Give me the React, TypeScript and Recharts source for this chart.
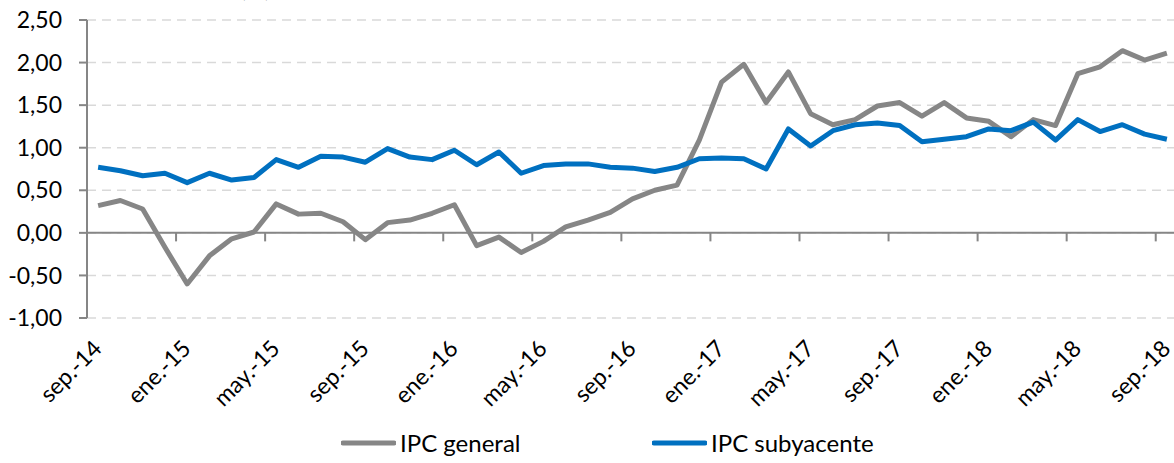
import React from "react";
import { CartesianGrid, Legend, Line, LineChart, ReferenceLine, XAxis, YAxis } from "recharts";

const months = [
  "sep.-14", "oct.-14", "nov.-14", "dic.-14",
  "ene.-15", "feb.-15", "mar.-15", "abr.-15", "may.-15", "jun.-15", "jul.-15", "ago.-15", "sep.-15", "oct.-15", "nov.-15", "dic.-15",
  "ene.-16", "feb.-16", "mar.-16", "abr.-16", "may.-16", "jun.-16", "jul.-16", "ago.-16", "sep.-16", "oct.-16", "nov.-16", "dic.-16",
  "ene.-17", "feb.-17", "mar.-17", "abr.-17", "may.-17", "jun.-17", "jul.-17", "ago.-17", "sep.-17", "oct.-17", "nov.-17", "dic.-17",
  "ene.-18", "feb.-18", "mar.-18", "abr.-18", "may.-18", "jun.-18", "jul.-18", "ago.-18", "sep.-18",
];

const ipcGeneral = [
  0.32, 0.38, 0.28, -0.17,
  -0.6, -0.27, -0.07, 0.01, 0.34, 0.22, 0.23, 0.13, -0.08, 0.12, 0.15, 0.23,
  0.33, -0.15, -0.05, -0.23, -0.1, 0.07, 0.15, 0.24, 0.4, 0.5, 0.56, 1.09,
  1.77, 1.98, 1.53, 1.89, 1.4, 1.27, 1.33, 1.49, 1.53, 1.37, 1.53, 1.35,
  1.31, 1.13, 1.33, 1.26, 1.87, 1.95, 2.14, 2.03, 2.11,
];

const ipcSubyacente = [
  0.77, 0.73, 0.67, 0.7,
  0.59, 0.7, 0.62, 0.65, 0.86, 0.77, 0.9, 0.89, 0.83, 0.99, 0.89, 0.86,
  0.97, 0.8, 0.95, 0.7, 0.79, 0.81, 0.81, 0.77, 0.76, 0.72, 0.77, 0.87,
  0.88, 0.87, 0.75, 1.22, 1.02, 1.2, 1.27, 1.29, 1.26, 1.07, 1.1, 1.13,
  1.22, 1.2, 1.3, 1.09, 1.33, 1.19, 1.27, 1.16, 1.1,
];

const yTicks = [-1, -0.5, 0, 0.5, 1, 1.5, 2, 2.5];

const data = months.map((mes, i) => ({
  i,
  mes,
  general: ipcGeneral[i],
  subyacente: ipcSubyacente[i],
}));

// label every 4th month, tick marks sit between categories
const labelTicks = months.map((_, i) => i).filter((i) => i % 4 === 0);
const tickMarks = labelTicks.slice(1).map((i) => i - 0.5);

const FONT = "Lato, 'Open Sans', sans-serif";

function MonthTick({ x, y, payload }: any) {
  return (
    <g transform={`translate(${x + 5},${y + 30}) rotate(-45)`}>
      <text textAnchor="end" fill="#000" fontSize={23} fontFamily={FONT}>
        {months[payload.value]}
      </text>
    </g>
  );
}

function LegendContent({ payload }: any) {
  return (
    <div style={{ display: "flex" }}>
      {(payload || []).map((entry: any) => (
        <div key={entry.value} style={{ width: 311, display: "flex", alignItems: "center" }}>
          <svg width={55} height={8}>
            <line x1={2} y1={4} x2={53} y2={4} stroke={entry.color} strokeWidth={5} strokeLinecap="round" />
          </svg>
          <span style={{ marginLeft: 4, fontSize: 24, fontFamily: FONT, color: "#000" }}>{entry.value}</span>
        </div>
      ))}
    </div>
  );
}

export default function App() {
  return (
    <div style={{ position: "relative", width: 1174, height: 463, overflow: "hidden", background: "#fff" }}>
      <style>{`body{margin:0}`}</style>
      <div style={{ position: "absolute", left: 240, top: -23, fontSize: 23, lineHeight: "23px", fontFamily: FONT }}>
        (%)
      </div>
      <LineChart width={1178} height={463} data={data} margin={{ top: 20, right: 0, left: 0, bottom: 0 }}>
        <CartesianGrid vertical={false} stroke="#d9d9d9" strokeWidth={1.5} strokeDasharray="9 6" />
        <XAxis
          dataKey="i"
          type="number"
          domain={[-0.5, months.length - 0.5]}
          ticks={labelTicks}
          interval={0}
          axisLine={false}
          tickLine={false}
          tickSize={0}
          height={105}
          tick={<MonthTick />}
        />
        <YAxis
          domain={[-1, 2.5]}
          ticks={yTicks}
          width={87}
          tickSize={8}
          tickMargin={17}
          axisLine={{ stroke: "#868686", strokeWidth: 2 }}
          tickLine={{ stroke: "#868686", strokeWidth: 2 }}
          tick={{ fill: "#000", fontSize: 23, fontFamily: FONT }}
          tickFormatter={(v: number) => v.toFixed(2).replace(".", ",")}
        />
        <ReferenceLine y={0} stroke="#868686" strokeWidth={2} />
        {tickMarks.map((b) => (
          <ReferenceLine
            key={b}
            segment={[{ x: b, y: 0 }, { x: b, y: -0.1 }]}
            stroke="#868686"
            strokeWidth={2}
          />
        ))}
        <Line
          type="linear"
          dataKey="general"
          name="IPC general"
          stroke="#868686"
          strokeWidth={5}
          strokeLinejoin="round"
          dot={false}
          isAnimationActive={false}
        />
        <Line
          type="linear"
          dataKey="subyacente"
          name="IPC subyacente"
          stroke="#0070c0"
          strokeWidth={5}
          strokeLinejoin="round"
          dot={false}
          isAnimationActive={false}
        />
        <Legend
          verticalAlign="bottom"
          height={40}
          content={<LegendContent />}
          wrapperStyle={{ left: 341, top: 428, width: 700 }}
        />
      </LineChart>
    </div>
  );
}
